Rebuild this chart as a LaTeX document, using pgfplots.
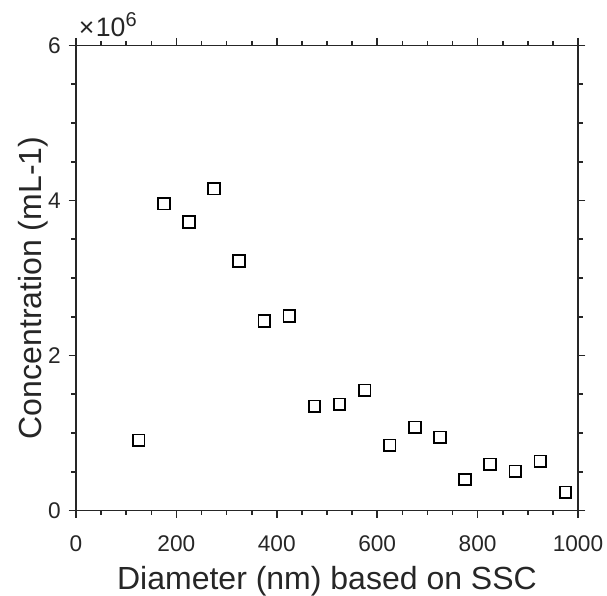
\documentclass[border=0pt]{standalone}
\usepackage{fontspec}
\setmainfont{Liberation Sans}
\usepackage{pgfplots}
\pgfplotsset{compat=1.18}
\definecolor{axgray}{HTML}{262626}
\begin{document}
\begin{tikzpicture}
\begin{axis}[
  scale only axis, width=376.5pt, height=348.75pt,
  xmin=0, xmax=1000, ymin=0, ymax=6e6,
  xtick={0,200,400,600,800,1000}, xticklabels={0,200,400,600,800,1000},
  ytick={0,2e6,4e6,6e6}, yticklabels={0,2,4,6},
  scaled y ticks=false,
  minor x tick num=3, minor y tick num=3,
  tick align=outside, tick pos=both,
  major tick length=5.6pt, minor tick length=3.4pt,
  axis line style={axgray, line width=1.2pt},
  tick style={axgray, line width=1.2pt},
  minor tick style={axgray, line width=1.2pt},
  tick label style={font=\fontsize{17}{20}\selectfont, text=axgray},
  xticklabel style={yshift=-10pt},
  yticklabel style={xshift=-2.25pt},
  label style={font=\fontsize{24}{28}\selectfont, text=axgray},
  xlabel={Diameter (nm) based on SSC},
  ylabel={Concentration (mL-1)},
  xlabel style={yshift=-4pt},
  ylabel style={yshift=-6.5pt, xshift=-7.5pt},
  clip=false,
]
\addplot[only marks, mark=square, mark size=4.35pt, mark options={black, line width=1.3pt}] coordinates {
(125,905000) (175,3957000) (225,3724000) (275,4151000) (325,3220000)
(375,2444000) (425,2509000) (475,1345000) (525,1371000) (575,1552000)
(625,840000) (675,1073000) (725,944000) (775,400000) (825,595000)
(875,504000) (925,634000) (975,233000)
};
\node[anchor=base west, inner sep=0pt, text=axgray, font=\fontsize{20}{24}\selectfont] at ([shift={(2pt,6.4pt)}]rel axis cs:0,1) {×\hspace{1pt}10\raisebox{8pt}{\fontsize{15}{17}\selectfont 6}};
\coordinate (bl) at (rel axis cs:0,0);
\coordinate (tr) at (rel axis cs:1,1);
\end{axis}
\pgfresetboundingbox
\path ([shift={(-57pt,-64.1pt)}]bl) rectangle ([shift={(21.75pt,34.1pt)}]tr);
\end{tikzpicture}
\end{document}
